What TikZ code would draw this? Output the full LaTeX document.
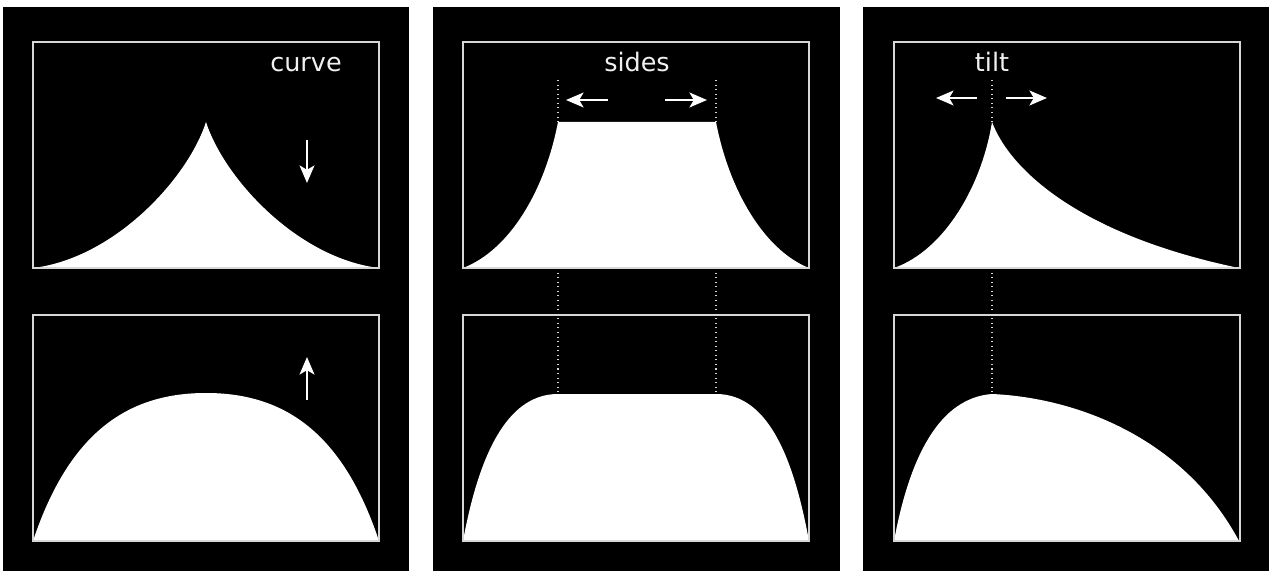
\documentclass[tikz,border=0pt]{standalone}
\usepackage{fontspec}
\setmainfont{DejaVu Sans}
\usetikzlibrary{arrows.meta}
\definecolor{framegray}{RGB}{215,215,215}
\definecolor{labelgray}{RGB}{240,240,240}
\tikzset{
  panelframe/.style={draw=framegray,line width=1.3pt},
  guideline/.style={draw=framegray,dotted,line width=0.6pt},
  movearrow/.style={draw=white,line width=1.1pt,-{Stealth[length=10pt,width=8.5pt,inset=2.5pt]}},
  panellabel/.style={text=labelgray,anchor=base,font=\fontsize{14.5}{17}\selectfont}
}
\begin{document}
\begin{tikzpicture}[x=0.02cm,y=-0.02cm]
  \useasboundingbox (0,0) rectangle (1269,571);
  \fill[black] (3,7) rectangle (409,571);
  \fill[black] (433,7) rectangle (840,571);
  \fill[black] (863,7) rectangle (1269,571);
  \fill[white] (33,268) .. controls (115,258) and (188,178) .. (206,122)
    .. controls (224,178) and (297,258) .. (379,268) -- cycle;
  \fill[white] (33,541) .. controls (70,430) and (130,393) .. (206,393)
    .. controls (282,393) and (342,430) .. (379,541) -- cycle;
  \fill[white] (463,268) .. controls (510,250) and (545,190) .. (558,122) -- (716,122)
    .. controls (729,190) and (764,250) .. (809,268) -- cycle;
  \fill[white] (463,541) .. controls (478,460) and (505,394) .. (558,394) -- (716,394)
    .. controls (769,394) and (794,460) .. (809,541) -- cycle;
  \fill[white] (894,268) .. controls (945,250) and (982,185) .. (992,122)
    .. controls (1010,170) and (1080,235) .. (1239,268) -- cycle;
  \fill[white] (894,541) .. controls (910,455) and (940,398) .. (992,394)
    .. controls (1080,398) and (1185,440) .. (1239,541) -- cycle;
  \foreach \x in {33,463,894} {
    \draw[panelframe] (\x,42) rectangle ++(346,226);
    \draw[panelframe] (\x,315) rectangle ++(346,226);
  }
  \node[panellabel] (curvelabel) at (306,72) {curve};
  \node[panellabel] (sideslabel) at (637,72) {sides};
  \node[panellabel] (tiltlabel) at (992,72) {tilt};
  \coordinate (sidesltop) at (558,80);  \coordinate (sidesl) at (558,122);
  \coordinate (sidesrtop) at (716,80);  \coordinate (sidesr) at (716,122);
  \coordinate (tilttop) at (992,80);    \coordinate (tiltpeak) at (992,122);
  \draw[guideline] (sidesltop) -- (sidesl);
  \draw[guideline] (sidesrtop) -- (sidesr);
  \draw[guideline] (tilttop) -- (tiltpeak);
  \draw[guideline] (558,268) -- (558,394);
  \draw[guideline] (716,268) -- (716,394);
  \draw[guideline] (992,268) -- (992,394);
  \coordinate (downfrom) at (307,140);  \coordinate (downto) at (307,183);
  \coordinate (upfrom) at (307,400);    \coordinate (upto) at (307,357);
  \draw[movearrow] (downfrom) -- (downto);
  \draw[movearrow] (upfrom) -- (upto);
  \coordinate (sleftfrom) at (608,100); \coordinate (sleftto) at (566,100);
  \coordinate (srightfrom) at (665,100); \coordinate (srightto) at (707,100);
  \draw[movearrow] (sleftfrom) -- (sleftto);
  \draw[movearrow] (srightfrom) -- (srightto);
  \coordinate (tleftfrom) at (977,98);  \coordinate (tleftto) at (936,98);
  \coordinate (trightfrom) at (1006,98); \coordinate (trightto) at (1047,98);
  \draw[movearrow] (tleftfrom) -- (tleftto);
  \draw[movearrow] (trightfrom) -- (trightto);
\end{tikzpicture}
\end{document}
